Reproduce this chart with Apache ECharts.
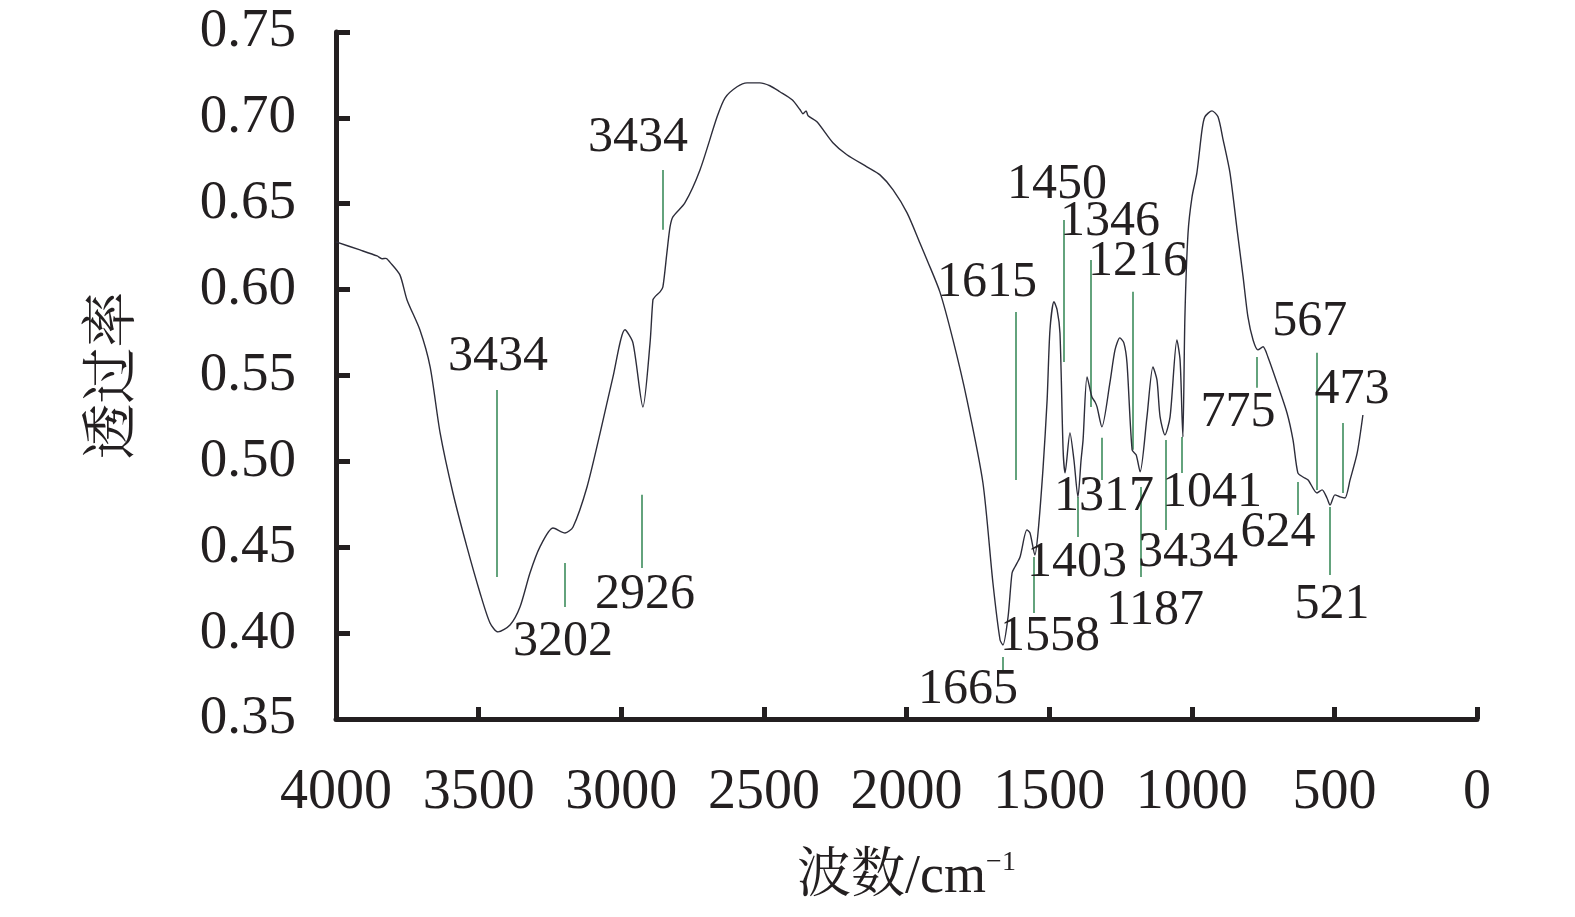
<!DOCTYPE html>
<html>
<head>
<meta charset="utf-8">
<script src="https://cdn.jsdelivr.net/npm/echarts@6/dist/echarts.min.js"></script>
<style>
html,body{margin:0;padding:0;background:#fff;}
#chart{width:1575px;height:917px;}
</style>
</head>
<body>
<div id="chart"></div>
<script>
// Wavenumber (cm^-1) and transmittance
var wavenumbers = [4000,3916,3856,3839,3825,3811,3776,3751,3706,3670,3635,3590,3541,3495,3460,3432,3390,3355,3320,3285,3239,3197,3169,3120,3074,3029,2987,2959,2924,2899,2889,2882,2864,2854,2840,2829,2819,2777,2724,2664,2636,2594,2559,2514,2479,2444,2401,2373,2363,2352,2345,2314,2258,2209,2139,2093,2047,1998,1953,1928,1883,1837,1788,1732,1697,1672,1662,1644,1630,1620,1602,1578,1567,1550,1539,1521,1507,1497,1483,1472,1462,1451,1444,1427,1413,1399,1388,1381,1367,1350,1339,1332,1315,1287,1269,1252,1238,1227,1209,1195,1181,1157,1136,1122,1111,1094,1076,1052,1041,1034,1031,1024,1013,999,982,964,954,929,908,890,866,841,820,803,785,768,750,733,701,666,645,628,610,592,561,543,526,515,498,480,463,445,420,400];
var transmittance = [0.6278,0.6231,0.6196,0.6180,0.6182,0.6160,0.6086,0.5940,0.5766,0.5550,0.5166,0.4816,0.4502,0.4234,0.4059,0.4007,0.4047,0.4152,0.4350,0.4502,0.4612,0.4583,0.4618,0.4851,0.5166,0.5492,0.5766,0.5690,0.5317,0.5690,0.5940,0.5958,0.5987,0.6016,0.6214,0.6365,0.6424,0.6505,0.6697,0.7006,0.7117,0.7181,0.7204,0.7204,0.7187,0.7152,0.7105,0.7047,0.7024,0.7041,0.7012,0.6977,0.6855,0.6785,0.6715,0.6668,0.6581,0.6447,0.6272,0.6173,0.5987,0.5707,0.5358,0.4874,0.4292,0.3960,0.3931,0.4094,0.4350,0.4385,0.4443,0.4601,0.4583,0.4455,0.4583,0.4968,0.5358,0.5766,0.5929,0.5882,0.5748,0.5067,0.4933,0.5166,0.5008,0.4793,0.5008,0.5125,0.5492,0.5375,0.5346,0.5317,0.5201,0.5457,0.5649,0.5719,0.5690,0.5573,0.5067,0.5038,0.4939,0.5259,0.5550,0.5474,0.5259,0.5154,0.5259,0.5707,0.5591,0.5259,0.5142,0.5841,0.6330,0.6540,0.6680,0.6930,0.7006,0.7041,0.7006,0.6872,0.6680,0.6348,0.6074,0.5841,0.5707,0.5649,0.5667,0.5608,0.5457,0.5282,0.5125,0.4933,0.4909,0.4892,0.4816,0.4834,0.4787,0.4746,0.4805,0.4793,0.4787,0.4892,0.5049,0.5270];

// Peak marker lines: wavenumber, top and bottom transmittance
var markerX = [2854,3436,3197,2927,1616,1448,1353,1206,1662,1553,1399,1315,1178,1090,1034,771,628,561,515,470];
var markerTop = [0.6697,0.5416,0.4409,0.4805,0.5870,0.6406,0.6173,0.5987,0.3861,0.4443,0.4793,0.5137,0.4851,0.5125,0.5142,0.5608,0.4880,0.5632,0.4735,0.5224];
var markerBottom = [0.6348,0.4327,0.4152,0.4379,0.4892,0.5579,0.5317,0.5067,0.3774,0.4117,0.4560,0.4892,0.4327,0.4601,0.4933,0.5428,0.4688,0.4834,0.4339,0.4816];

// Peak labels: text and anchor position (wavenumber, transmittance)
var labelText = ['3434','3434','3202','2926','1615','1450','1346','1216','1665','1558','1403','1317','1187','3434','1041','775','624','567','521','473'];
var labelX = [2941,3432,3204,2917,1718,1472,1287,1188,1784,1497,1402,1308,1129,1013,929,838,698,586,508,438];
var labelY = [0.6884,0.5608,0.3948,0.4222,0.6039,0.6610,0.6395,0.6162,0.3669,0.3978,0.4409,0.4793,0.4129,0.4467,0.4816,0.5282,0.4583,0.5812,0.4164,0.5416];

var xTicks = {min: 0, max: 4000, interval: 500};
var yTicks = {min: 0.35, max: 0.75, interval: 0.05};

var spectrum = wavenumbers.map(function (w, i) { return [w, transmittance[i]]; });
var markers = markerX.map(function (x, i) { return {coords: [[x, markerTop[i]], [x, markerBottom[i]]]}; });
var labels = labelText.map(function (t, i) { return {name: t, value: [labelX[i], labelY[i]]}; });

var serif = "'Liberation Serif', 'Times New Roman', 'Noto Serif CJK SC', 'Noto Sans CJK SC', serif";
var ink = '#231f20';

var chart = echarts.init(document.getElementById('chart'), null, {renderer: 'canvas'});
chart.setOption({
  backgroundColor: '#ffffff',
  animation: false,
  grid: {left: 336, right: 98, top: 32, bottom: 198, containLabel: false},
  xAxis: {
    type: 'value',
    inverse: true,
    min: xTicks.min, max: xTicks.max, interval: xTicks.interval,
    name: '波数/cm{sup|−1}',
    nameLocation: 'middle',
    nameGap: 130,
    nameTextStyle: {
      fontFamily: serif, fontSize: 54, color: ink,
      rich: {sup: {fontFamily: serif, fontSize: 28, color: ink, padding: [0, 0, 30, 0]}}
    },
    axisLine: {show: true, onZero: false, lineStyle: {color: ink, width: 5}},
    axisTick: {show: true, inside: true, length: 12, lineStyle: {color: ink, width: 5}},
    axisLabel: {fontFamily: serif, fontSize: 56, color: ink, margin: 46,
      formatter: function (v) { return String(v); }},
    splitLine: {show: false}
  },
  yAxis: {
    type: 'value',
    min: yTicks.min, max: yTicks.max, interval: yTicks.interval,
    name: '透过率',
    nameLocation: 'middle',
    nameRotate: 90,
    nameGap: 200,
    nameTextStyle: {fontFamily: "'Noto Serif CJK SC', 'Noto Sans CJK SC', serif", fontSize: 56, color: ink},
    axisLine: {show: true, onZero: false, lineStyle: {color: ink, width: 5}},
    axisTick: {show: true, inside: true, length: 14, lineStyle: {color: ink, width: 5}},
    axisLabel: {fontFamily: serif, fontSize: 55, color: ink, margin: 40,
      formatter: function (v) { return v.toFixed(2); }},
    splitLine: {show: false}
  },
  series: [
    {
      type: 'line',
      data: spectrum,
      showSymbol: false,
      smooth: 0.25,
      lineStyle: {color: '#2d2d3a', width: 1.4},
      z: 3
    },
    {
      type: 'lines',
      coordinateSystem: 'cartesian2d',
      data: markers,
      lineStyle: {color: '#3d8c5c', width: 1.6, opacity: 1},
      z: 2
    },
    {
      type: 'scatter',
      data: labels,
      symbolSize: 0,
      itemStyle: {color: ink},
      label: {
        show: true, position: 'inside', formatter: '{b}',
        fontFamily: serif, fontSize: 50, color: ink, opacity: 1,
        textBorderWidth: 0
      },
      emphasis: {disabled: true},
      z: 4
    }
  ]
});
</script>
</body>
</html>
